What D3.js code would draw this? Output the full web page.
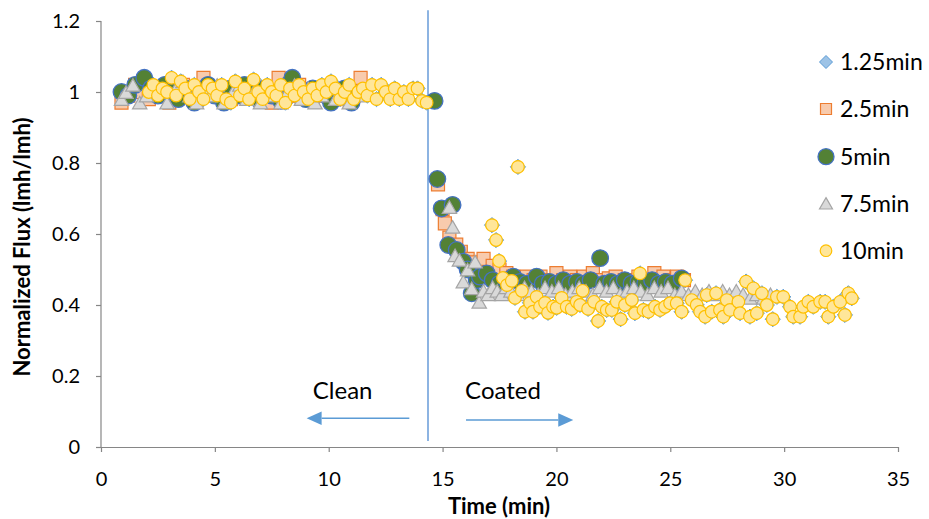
<!DOCTYPE html>
<html>
<head>
<meta charset="utf-8">
<script src="https://cdn.jsdelivr.net/npm/d3@7"></script>
<style>
  body { margin: 0; background: #fff; }
  svg text { font-family: Lato, "Open Sans", sans-serif; fill: #000; }
</style>
</head>
<body>
<svg id="chart" width="929" height="519"></svg>
<script>
// ---- Normalized flux vs. time for each coating interval ----

// 2.5 min run
const time25 = [0.9,1.2,1.5,1.8,2.1,2.4,2.7,3.0,3.3,3.6,3.9,4.2,4.5,4.8,5.1,5.4,5.7,6.0,6.3,6.6,6.9,7.2,7.5,7.8,8.1,8.4,8.7,9.0,9.3,9.6,9.9,10.2,10.5,10.8,11.1,11.4,
  14.8,15.0,15.1,15.3,15.6,15.8,16.1,16.4,16.8,17.2,17.5,17.8,18.1,18.4,18.7,19.0,19.3,19.6,20.0,20.3,20.6,20.9,21.2,21.6,21.9,22.3,22.6,23.0,23.3,23.6,23.9,24.3,24.7,25.0,25.3,25.6];
const flux25 = [0.97,0.99,1.02,1.00,0.98,1.01,1.00,0.97,0.99,1.02,1.00,0.98,1.04,1.01,0.99,1.00,0.98,1.02,1.00,0.99,1.01,0.98,0.97,1.04,1.00,0.99,1.02,1.00,0.98,1.01,0.99,1.00,0.98,1.01,0.99,1.04,
  0.74,0.67,0.63,0.59,0.57,0.55,0.53,0.52,0.53,0.51,0.50,0.49,0.48,0.47,0.48,0.47,0.48,0.47,0.49,0.47,0.48,0.47,0.48,0.49,0.47,0.475,0.48,0.47,0.47,0.48,0.47,0.49,0.48,0.47,0.48,0.47];

// 5 min run
const time5 = [0.9,1.2,1.5,1.9,2.2,2.5,2.8,3.1,3.4,3.7,4.1,4.4,4.7,5.0,5.4,5.7,6.0,6.3,6.6,6.9,7.2,7.5,7.9,8.2,8.4,8.7,9.0,9.3,9.6,9.9,10.1,10.4,10.7,11.0,
  14.65,14.77,14.96,15.25,15.44,15.62,15.91,16.1,16.28,16.5,16.64,16.94,17.2,17.5,17.8,18.11,18.4,18.7,19.13,19.4,19.7,20.0,20.3,20.6,20.9,21.2,21.5,21.92,22.1,22.4,22.7,23.0,23.3,23.6,23.9,24.2,24.5,24.8,25.1,25.5];
const flux5 = [1.00,0.99,1.02,1.04,1.01,0.99,1.02,1.00,0.98,1.01,0.97,1.00,1.02,0.99,0.97,1.01,0.99,1.02,1.00,0.98,1.01,0.99,0.975,1.02,1.04,1.00,0.98,1.01,1.00,0.99,0.97,1.00,1.01,0.97,
  0.975,0.755,0.672,0.569,0.682,0.555,0.522,0.50,0.433,0.47,0.48,0.489,0.47,0.46,0.47,0.48,0.465,0.46,0.48,0.46,0.465,0.46,0.47,0.46,0.465,0.46,0.47,0.532,0.46,0.465,0.46,0.47,0.46,0.465,0.46,0.47,0.46,0.465,0.46,0.475];

// 7.5 min run
const time75 = [0.9,1.1,1.4,1.7,2.0,2.3,2.6,2.9,3.3,3.6,3.9,4.2,4.5,4.8,5.1,5.4,5.8,6.1,6.4,6.7,7.0,7.3,7.6,7.9,8.2,8.5,8.8,9.1,9.4,9.7,10.0,10.3,10.6,10.9,11.3,
  15.3,15.44,15.55,15.74,15.91,16.1,16.28,16.43,16.61,16.8,17.0,17.2,17.4,17.6,17.8,18.0,18.3,18.6,18.9,19.2,19.5,19.8,20.1,20.4,20.7,21.0,21.3,21.6,21.9,22.2,22.5,22.8,23.1,23.4,23.7,24.0,24.3,24.6,24.9,25.2,25.5,25.8,26.1,26.4,26.7,27.0,27.3,27.6,27.9,28.2,28.5,28.8,29.1,29.4];
const flux75 = [0.98,1.00,1.02,0.97,0.99,1.02,1.00,0.97,1.01,1.03,0.99,0.97,1.01,0.99,1.02,0.97,1.00,1.02,0.98,1.00,0.97,1.01,0.99,0.97,1.00,1.02,0.98,1.01,0.97,0.99,1.01,0.98,1.00,0.97,0.99,
  0.676,0.62,0.54,0.527,0.466,0.50,0.447,0.522,0.409,0.44,0.43,0.45,0.44,0.43,0.45,0.44,0.43,0.45,0.44,0.43,0.45,0.44,0.45,0.43,0.44,0.45,0.44,0.43,0.45,0.44,0.45,0.43,0.44,0.45,0.44,0.43,0.45,0.44,0.45,0.43,0.44,0.43,0.44,0.43,0.44,0.43,0.44,0.43,0.44,0.43,0.42,0.43,0.42,0.43];

// 10 min run
const time10 = [2.1,2.3,2.5,2.7,2.9,3.1,3.3,3.5,3.7,3.9,4.1,4.3,4.5,4.7,4.9,5.1,5.3,5.5,5.7,5.9,6.1,6.3,6.5,6.7,6.9,7.1,7.3,7.5,7.7,7.9,8.1,8.3,8.5,8.7,8.9,9.1,9.3,9.5,9.7,9.9,10.1,10.3,10.5,10.7,10.9,11.1,11.3,11.5,11.7,11.9,12.1,12.3,12.5,12.7,12.9,13.1,13.3,13.5,13.7,13.9,14.1,14.3,
  17.17,17.35,17.48,17.65,17.83,18.04,18.18,18.31,18.48,18.62,18.84,18.97,19.13,19.28,19.50,19.63,19.85,20.01,20.23,20.45,20.67,20.89,21.04,21.15,21.39,21.65,21.83,21.99,22.21,22.43,22.65,22.82,23.01,23.31,23.45,23.67,23.82,24.04,24.33,24.55,24.77,24.99,25.28,25.50,25.65,25.94,26.16,26.31,26.53,26.60,26.82,27.01,27.18,27.33,27.48,27.62,27.99,28.06,28.33,28.50,28.65,28.80,29.02,29.24,29.50,29.68,29.96,30.26,30.40,30.70,30.84,31.06,31.28,31.58,31.80,31.94,32.16,32.46,32.67,32.82,32.97];
const flux10 = [1.00,1.02,0.99,1.01,1.00,1.04,0.99,1.03,1.01,0.98,1.02,1.00,0.98,1.02,1.01,0.99,1.02,0.98,0.97,1.03,0.99,1.01,0.98,1.035,1.00,0.98,1.02,1.00,0.99,1.02,0.97,1.01,0.99,1.02,1.00,0.98,1.01,0.99,1.02,1.00,1.03,1.01,0.98,1.00,1.02,0.98,1.00,1.01,0.99,1.02,0.98,1.02,1.00,0.98,1.01,0.98,1.00,0.98,1.01,1.01,0.975,0.97,
  0.625,0.583,0.524,0.476,0.456,0.468,0.420,0.789,0.440,0.381,0.406,0.381,0.423,0.395,0.406,0.378,0.395,0.392,0.420,0.395,0.389,0.409,0.400,0.440,0.389,0.409,0.355,0.395,0.386,0.386,0.409,0.360,0.400,0.414,0.377,0.489,0.386,0.381,0.395,0.386,0.395,0.405,0.405,0.381,0.470,0.414,0.400,0.381,0.367,0.428,0.381,0.433,0.386,0.367,0.414,0.386,0.409,0.377,0.466,0.367,0.447,0.377,0.433,0.400,0.360,0.423,0.423,0.395,0.367,0.367,0.395,0.409,0.395,0.409,0.409,0.367,0.395,0.409,0.372,0.433,0.419];

// 1.25 min readings coincide with the 10 min readings
const time125 = time10;
const flux125 = flux10;

const seriesNames = ["1.25min", "2.5min", "5min", "7.5min", "10min"];
const xTicks = [0, 5, 10, 15, 20, 25, 30, 35];
const yTicks = [0, 0.2, 0.4, 0.6, 0.8, 1.0, 1.2];
const switchTime = 14.36;   // clean → coated transition

// ---- marker shapes (Excel-style) ----
const diamond = { draw(ctx, s) { const r = s; ctx.moveTo(0, -r); ctx.lineTo(r, 0); ctx.lineTo(0, r); ctx.lineTo(-r, 0); ctx.closePath(); } };
const square = { draw(ctx, s) { ctx.rect(-s, -s, 2 * s, 2 * s); } };
const circle = { draw(ctx, s) { ctx.moveTo(s, 0); ctx.arc(0, 0, s, 0, 2 * Math.PI); } };
const triangle = { draw(ctx, s) { const h = s * 1.75, w = s * 2.0; ctx.moveTo(0, -h / 2); ctx.lineTo(w / 2, h / 2); ctx.lineTo(-w / 2, h / 2); ctx.closePath(); } };

const styles = [
  { type: diamond,  size: 7.6, fill: "#9DC3E6", stroke: "#5B9BD5", sw: 1 },
  { type: square,   size: 6.5, fill: "#F8CBAD", stroke: "#ED7D31", sw: 1.2 },
  { type: circle,   size: 8.3, fill: "#538135", stroke: "#4472C4", sw: 1.3 },
  { type: triangle, size: 7.2, fill: "#D9D9D9", stroke: "#A5A5A5", sw: 1.2 },
  { type: circle,   size: 6.3, fill: "#FFE699", stroke: "#FFC000", sw: 1.2 }
];

const seriesData = [
  [time125, flux125], [time25, flux25], [time5, flux5], [time75, flux75], [time10, flux10]
].map(([t, f], i) => ({ name: seriesNames[i], style: styles[i], points: t.map((d, j) => [d, f[j]]) }));

// ---- scales & axes ----
const svg = d3.select("#chart");
const x = d3.scaleLinear().domain([0, 35]).range([101, 898]);
const y = d3.scaleLinear().domain([0, 1.2]).range([447, 21]);
const axisColor = "#868686";

const gx = svg.append("g").attr("transform", `translate(0,${y(0)})`)
  .call(d3.axisBottom(x).tickValues(xTicks).tickSize(5).tickPadding(20).tickSizeOuter(0).tickFormat(d3.format("d")));
const gy = svg.append("g").attr("transform", `translate(${x(0)},0)`)
  .call(d3.axisLeft(y).tickValues(yTicks).tickSize(5).tickPadding(16).tickSizeOuter(0).tickFormat(d => d === 0 ? "0" : d === 1 ? "1" : d3.format(".1f")(d)));
[gx, gy].forEach(g => {
  g.select(".domain").attr("stroke", axisColor).attr("stroke-width", 1.2);
  g.selectAll(".tick line").attr("stroke", axisColor).attr("stroke-width", 1.2);
  g.selectAll(".tick text").attr("font-size", 20).attr("font-family", "Lato, sans-serif").attr("fill", "#000");
});
gy.select(".domain").attr("d", `M0,${y(0)}V${y(1.2)}`);

// ---- axis titles ----
svg.append("text").attr("x", 499).attr("y", 514).attr("text-anchor", "middle")
  .attr("font-size", 22).attr("font-weight", "bold").text("Time (min)");
svg.append("text").attr("transform", "translate(30,247) rotate(-90)").attr("text-anchor", "middle")
  .attr("font-size", 22).attr("font-weight", "bold").text("Normalized Flux (lmh/lmh)");

// ---- clean / coated divider and annotations ----
const annColor = "#5B9BD5";
svg.append("line").attr("x1", x(switchTime)).attr("x2", x(switchTime))
  .attr("y1", y(1.23)).attr("y2", y(0.017)).attr("stroke", "#8DB4E2").attr("stroke-width", 2);

function arrow(t0, t1, v) {
  const dir = Math.sign(t1 - t0);
  const xe = x(t1), yy = y(v), hl = 15, hw = 6.7;
  svg.append("line").attr("x1", x(t0)).attr("x2", xe - dir * hl).attr("y1", yy).attr("y2", yy)
    .attr("stroke", annColor).attr("stroke-width", 1.5);
  svg.append("path").attr("d", `M${xe},${yy}L${xe - dir * hl},${yy - hw}L${xe - dir * hl},${yy + hw}Z`).attr("fill", annColor);
}
arrow(13.54, 9.03, 0.081);
arrow(16.03, 20.74, 0.076);
svg.append("text").attr("x", x(9.3)).attr("y", y(0.134)).attr("font-size", 24).text("Clean");
svg.append("text").attr("x", x(15.99)).attr("y", y(0.134)).attr("font-size", 24).text("Coated");

// ---- data markers ----
seriesData.forEach(s => {
  const sym = d3.symbol().type(s.style.type).size(s.style.size);
  svg.append("g").selectAll("path").data(s.points).join("path")
    .attr("transform", d => `translate(${x(d[0])},${y(d[1])})`)
    .attr("d", sym)
    .attr("fill", s.style.fill).attr("stroke", s.style.stroke).attr("stroke-width", s.style.sw);
});

// ---- legend ----
const legendY = [62, 109, 156.7, 203.3, 250.7];
const legendSize = [6.5, 5.5, 8, 6.5, 5.8];
const lg = svg.append("g");
seriesData.forEach((s, i) => {
  const st = s.style;
  lg.append("path").attr("transform", `translate(826,${legendY[i]})`)
    .attr("d", d3.symbol().type(st.type).size(legendSize[i]))
    .attr("fill", st.fill).attr("stroke", st.stroke).attr("stroke-width", st.sw);
  lg.append("text").attr("x", 840).attr("y", legendY[i]).attr("dy", "0.36em")
    .attr("font-size", 23).text(s.name);
});
</script>
</body>
</html>
